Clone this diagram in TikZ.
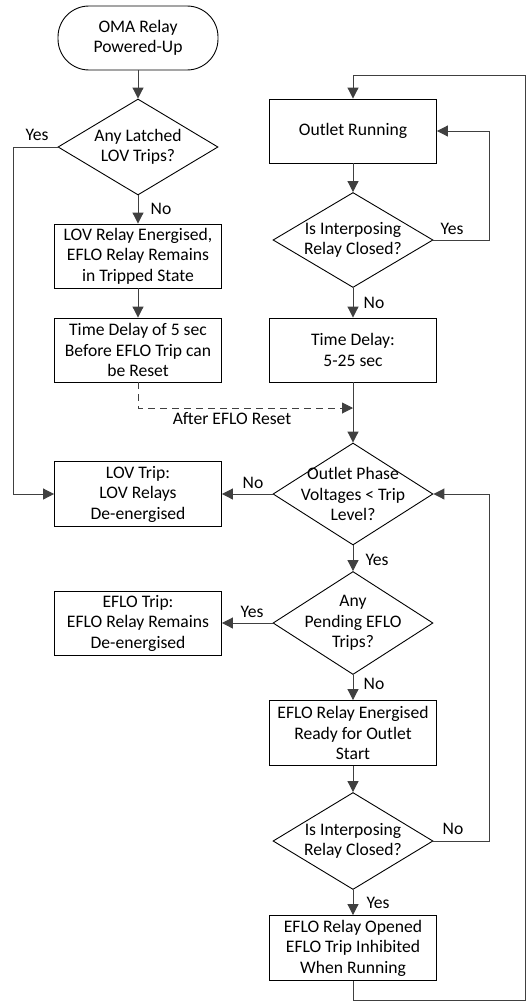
\documentclass[tikz,border=0pt]{standalone}
\usepackage{fontspec}
\setmainfont{Carlito}
\usetikzlibrary{shapes.geometric,arrows.meta}
\begin{document}
\begin{tikzpicture}[x=1pt,y=-1pt,
  font=\fontsize{17.6}{20.5}\selectfont,
  txt/.style={align=center,inner sep=0pt},
  procbox/.style={draw=black,line width=0.9pt,rectangle,minimum width=167pt,minimum height=64pt,align=center,inner sep=1pt},
  termbox/.style={draw=black,line width=0.9pt,rectangle,rounded corners=31pt,minimum width=160pt,minimum height=64pt,align=center},
  dia/.style={draw=black,line width=0.9pt,diamond,minimum width=160pt,minimum height=#1,inner sep=0pt},
  conn/.style={draw=black!75,line width=1pt},
  arr/.style={conn,-{Triangle[width=11pt,length=11pt]}},
  lbl/.style={inner sep=0pt}]
\useasboundingbox (0,0) rectangle (528,1001);

% left column
\node[termbox] (start) at (138,38) {OMA Relay\\Powered-Up};
\node[dia=96pt,label={[txt]center:Any Latched\\LOV Trips?}] (d1) at (138,147) {};
\node[procbox] (b1) at (138,256) {LOV Relay Energised,\\EFLO Relay Remains\\in Tripped State};
\node[procbox] (b2) at (138,350) {Time Delay of 5 sec\\Before EFLO Trip can\\be Reset};
\node[procbox,minimum height=65pt] (lovtrip) at (138,494) {LOV Trip:\\LOV Relays\\De-energised};
\node[procbox] (eflotrip) at (138,623) {EFLO Trip:\\EFLO Relay Remains\\De-energised};

% right column
\node[procbox] (run) at (353,131) {Outlet Running};
\node[dia=95pt,label={[txt]center:Is Interposing\\Relay Closed?}] (d2) at (353,240) {};
\node[procbox] (td) at (353,350) {Time Delay:\\5-25 sec};
\node[dia=102pt,label={[txt]center:Outlet Phase\\Voltages < Trip\\Level?}] (d3) at (353,494) {};
\node[dia=103pt,label={[txt]center:Any\\Pending EFLO\\Trips?}] (d4) at (353,623) {};
\node[procbox,minimum height=65pt] (e1) at (353,733) {EFLO Relay Energised\\Ready for Outlet\\Start};
\node[dia=97pt,label={[txt]center:Is Interposing\\Relay Closed?}] (d5) at (353,841) {};
\node[procbox,minimum height=65pt] (bot) at (353,948) {EFLO Relay Opened\\EFLO Trip Inhibited\\When Running};

% routing points
\coordinate (join) at (353,408);
\coordinate (yesleft) at (13,147);
\coordinate (loopA) at (489,240);
\coordinate (loopB) at (489,841);
\coordinate (botturn) at (353,1000);
\coordinate (outerR) at (525,1000);
\coordinate (outerT) at (525,75);

% connectors
\draw[arr] (start) -- (d1);
\draw[arr] (d1) -- (b1);
\draw[arr] (b1) -- (b2);
\draw[arr] (d1.west) -- (yesleft) |- (lovtrip.west);
\draw[arr,dashed,dash pattern=on 7pt off 5pt] (b2.south) |- (join);

\draw[arr] (run) -- (d2);
\draw[arr] (d2.east) -- (loopA) |- (run.east);
\draw[arr] (d2) -- (td);
\draw[arr] (td) -- (d3);
\draw[arr] (d3.west) -- (lovtrip.east);
\draw[arr] (d3) -- (d4);
\draw[arr] (d4.west) -- (eflotrip.east);
\draw[arr] (d4) -- (e1);
\draw[arr] (e1) -- (d5);
\draw[arr] (d5.east) -- (loopB) |- (d3.east);
\draw[arr] (d5) -- (bot);
\draw[arr] (bot.south) -- (botturn) -- (outerR) -- (outerT) -| (run.north);

% branch labels
\node[lbl] (l1) at (37,135) {Yes};
\node[lbl] (l2) at (161,209) {No};
\node[lbl] (l3) at (452,229) {Yes};
\node[lbl] (l4) at (374,303) {No};
\node[lbl] (l5) at (232,419) {After EFLO Reset};
\node[lbl] (l6) at (253,483) {No};
\node[lbl] (l7) at (377,560) {Yes};
\node[lbl] (l8) at (252,612) {Yes};
\node[lbl] (l9) at (374,684) {No};
\node[lbl] (l10) at (453,829) {No};
\node[lbl] (l11) at (378,903) {Yes};
\end{tikzpicture}
\end{document}
